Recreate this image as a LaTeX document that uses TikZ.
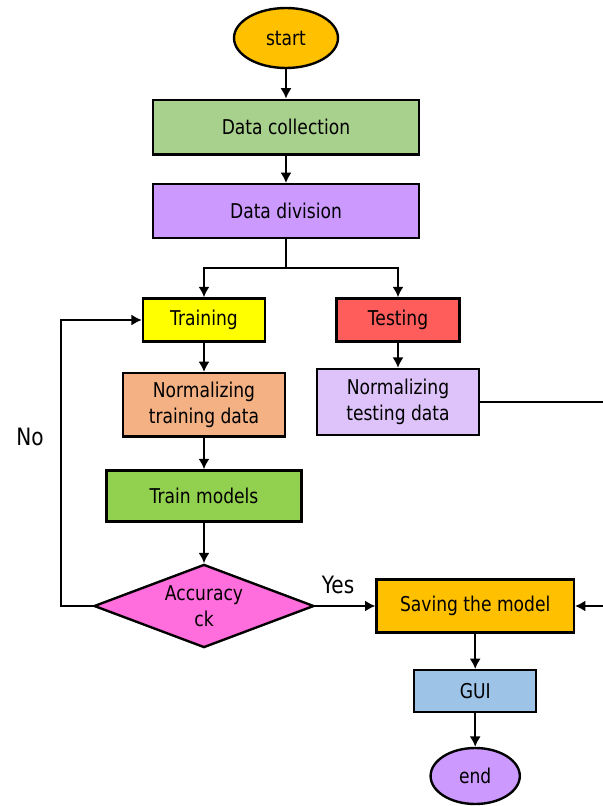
\documentclass[tikz,border=0pt]{standalone}
\usepackage{fontspec}
\setmainfont{DejaVu Sans}[FakeStretch=0.84]
\usetikzlibrary{arrows.meta,positioning,calc,shapes.geometric}

\definecolor{cOrange}{RGB}{255,192,0}
\definecolor{cGreen}{RGB}{169,209,142}
\definecolor{cPurple}{RGB}{204,153,255}
\definecolor{cYellow}{RGB}{255,255,0}
\definecolor{cRed}{RGB}{255,92,92}
\definecolor{cPeach}{RGB}{244,177,131}
\definecolor{cLilac}{RGB}{221,195,250}
\definecolor{cLime}{RGB}{146,208,80}
\definecolor{cPink}{RGB}{255,110,220}
\definecolor{cBlue}{RGB}{157,195,230}

\begin{document}
\begin{tikzpicture}[>={Latex[length=2.6mm,width=2.8mm]}, line width=1.8pt,
  box/.style={draw=black, line width=1.7pt, align=center, inner sep=0pt,
    font=\fontsize{14.5}{18.5}\selectfont},
  term/.style={box, ellipse},
  decide/.style={box, diamond, aspect=2.65}]
\useasboundingbox (0,0) rectangle (15.075,-20.15);

\node[term, fill=cOrange, minimum width=2.6cm, minimum height=1.5cm] (start) at (7.15,-0.95) {start};
\node[box, fill=cGreen, minimum width=6.65cm, minimum height=1.37cm] (collect) at (7.15,-3.18) {Data collection};
\node[box, fill=cPurple, minimum width=6.65cm, minimum height=1.35cm] (divide) at (7.15,-5.28) {Data division};

\node[box, fill=cYellow, minimum width=3.05cm, minimum height=1.08cm] (train) at (5.1,-8.0) {Training};
\node[box, fill=cRed, minimum width=3.08cm, minimum height=1.08cm] (test) at (9.95,-8.0) {Testing};
\node[box, fill=cPeach, minimum width=4.05cm, minimum height=1.58cm] (normtrain) at (5.1,-10.12) {Normalizing\\training data};
\node[box, fill=cLilac, minimum width=4.05cm, minimum height=1.65cm] (normtest) at (9.95,-10.05) {Normalizing\\testing data};
\node[box, fill=cLime, minimum width=4.88cm, minimum height=1.28cm] (models) at (5.1,-12.4) {Train models};
\node[decide, fill=cPink, minimum width=5.5cm, minimum height=2.08cm] (acc) at (5.1,-15.15) {Accuracy\\ck};

\node[box, fill=cOrange, minimum width=4.93cm, minimum height=1.33cm] (save) at (11.88,-15.15) {Saving the model};
\node[box, fill=cBlue, minimum width=3.05cm, minimum height=1.05cm] (gui) at (11.88,-17.28) {GUI};
\node[term, fill=cPurple, minimum width=2.23cm, minimum height=1.4cm] (end) at (11.88,-19.4) {end};

\node[font=\fontsize{17}{20}\selectfont] (no) at (0.75,-10.92) {No};
\node[font=\fontsize{17}{20}\selectfont] (yes) at (8.45,-14.62) {Yes};

\coordinate (split) at (7.15,-6.7);
\coordinate (noloop) at (1.52,-15.15);
\coordinate (rtop) at (15.3,-10.05);
\coordinate (rbot) at (15.3,-15.15);

\draw[->] (start) -- (collect);
\draw[->] (collect) -- (divide);
\draw (divide) -- (split);
\draw[->] (split) -| (train);
\draw[->] (split) -| (test);
\draw[->] (train) -- (normtrain);
\draw[->] (test) -- (normtest);
\draw[->] (normtrain) -- (models);
\draw[->] (models) -- (acc);
\draw[->] (acc.west) -- (noloop) |- (train.west);
\draw[->] (acc.east) -- (save.west);
\draw[->] (normtest.east) -- (rtop) -- (rbot) -- (save.east);
\draw[->] (save) -- (gui);
\draw[->] (gui) -- (end);
\end{tikzpicture}
\end{document}
